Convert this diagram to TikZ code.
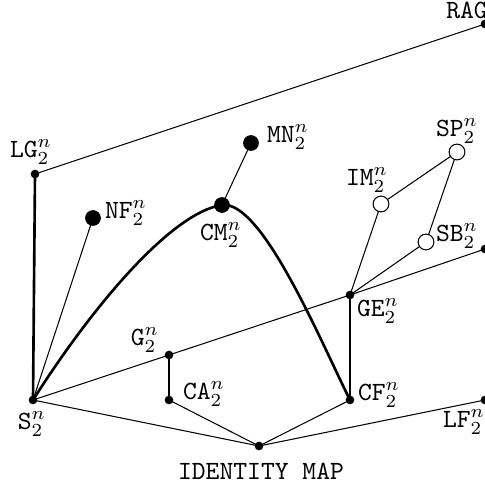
\documentclass[tikz,border=0pt]{standalone}
\usepackage{amsmath}

\tikzset{
  dot/.style={circle,fill,inner sep=0pt,minimum size=3.3pt},
  bigdot/.style={circle,fill,inner sep=0pt,minimum size=6pt},
  opendot/.style={circle,draw,fill=white,inner sep=0pt,minimum size=6pt,line width=0.4pt},
  lab/.style={inner sep=0pt,font=\ttfamily},
  heavy/.style={line width=1pt}
}

\begin{document}
\begin{tikzpicture}[x=0.38pt,y=-0.38pt,line width=0.4pt]
          \useasboundingbox (0,0) rectangle (485,487);
          % lines first, dots on top
          \coordinate (S) at (33,400);
          \coordinate (LG) at (35,174);
          \coordinate (RAG) at (485,24);
          \coordinate (NF) at (93,218);
          \coordinate (CM) at (222,205);
          \coordinate (MN) at (251,143);
          \coordinate (G) at (169,355);
          \coordinate (CA) at (169,400);
          \coordinate (GE) at (350,295);
          \coordinate (CF) at (350,400);
          \coordinate (IM) at (381,204);
          \coordinate (SP) at (457,152);
          \coordinate (SB) at (426,242);
          \coordinate (R) at (485,249);
          \coordinate (ID) at (259,446);
          \coordinate (LF) at (485,400);
          \draw[heavy] (S) -- (LG);
          \draw (LG) -- (RAG);
          \draw (S) -- (NF);
          \draw (CM) -- (MN);
          \draw[heavy] (S) .. controls (90,310) and (170,213) .. (CM)
                       .. controls (262,200) and (320,340) .. (CF);
          \draw (S) -- (G) -- (GE) -- (R);
          \draw[heavy] (G) -- (CA);
          \draw[heavy] (GE) -- (CF);
          \draw (GE) -- (IM) -- (SP) -- (SB) -- (GE);
          \draw (S) -- (ID) -- (LF);
          \draw (CA) -- (ID) -- (CF);
          \node[dot] (Sd) at (S) {};
          \node[dot] (LGd) at (LG) {};
          \node[dot] (RAGd) at (RAG) {};
          \node[bigdot] (NFd) at (NF) {};
          \node[bigdot] (CMd) at (CM) {};
          \node[bigdot] (MNd) at (MN) {};
          \node[dot] (Gd) at (G) {};
          \node[dot] (CAd) at (CA) {};
          \node[dot] (GEd) at (GE) {};
          \node[dot] (CFd) at (CF) {};
          \node[opendot] (IMd) at (IM) {};
          \node[opendot] (SPd) at (SP) {};
          \node[opendot] (SBd) at (SB) {};
          \node[dot] (Rd) at (R) {};
          \node[dot] (IDd) at (ID) {};
          \node[dot] (LFd) at (LF) {};
          % labels
          \node[lab] (RAGl) at (467,10) {RAG};
          \node[lab] (LGl) at (31,152) {$\mathtt{LG}_2^n$};
          \node[lab] (NFl) at (126,213) {$\mathtt{NF}_2^n$};
          \node[lab] (CMl) at (221,235) {$\mathtt{CM}_2^n$};
          \node[lab] (MNl) at (288,137) {$\mathtt{MN}_2^n$};
          \node[lab] (IMl) at (367,180) {$\mathtt{IM}_2^n$};
          \node[lab] (SPl) at (457,131) {$\mathtt{SP}_2^n$};
          \node[lab] (SBl) at (457,236) {$\mathtt{SB}_2^n$};
          \node[lab] (GEl) at (378,311) {$\mathtt{GE}_2^n$};
          \node[lab] (Gl) at (145,340) {$\mathtt{G}_2^n$};
          \node[lab] (CAl) at (204,394) {$\mathtt{CA}_2^n$};
          \node[lab] (CFl) at (379,395) {$\mathtt{CF}_2^n$};
          \node[lab] (Sl) at (32,424) {$\mathtt{S}_2^n$};
          \node[lab] (LFl) at (464,422) {$\mathtt{LF}_2^n$};
          \node[lab] (IDl) at (261,471) {IDENTITY MAP};
        \end{tikzpicture}
\end{document}
